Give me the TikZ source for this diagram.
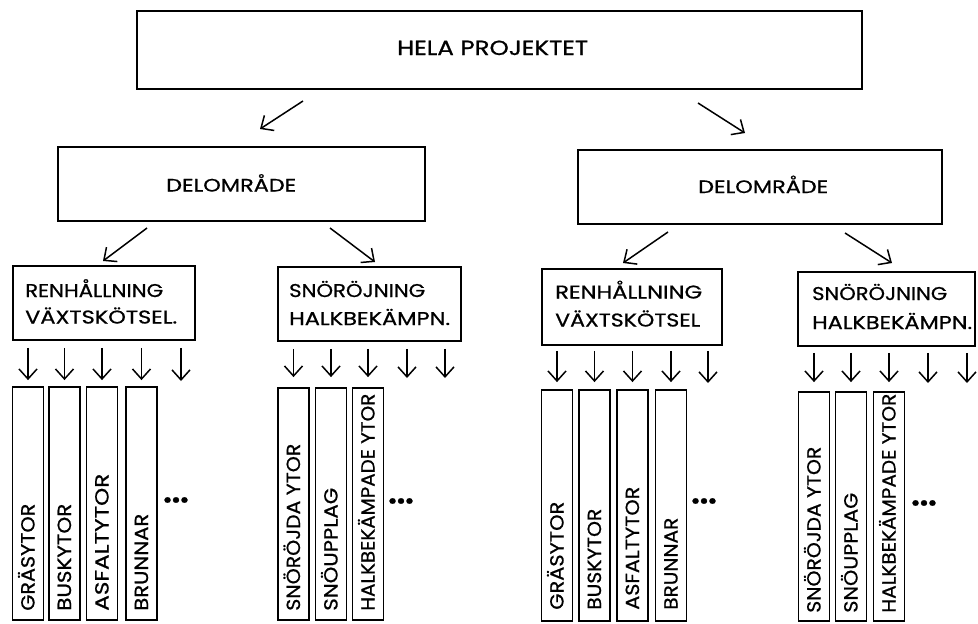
\documentclass[tikz,border=0pt]{standalone}
\usepackage{fontspec}
\setmainfont{Poppins}[FakeBold=0.7]
\usetikzlibrary{arrows.meta}
\newcommand\fitw[2]{\resizebox{#1pt}{\height}{#2}}
\begin{document}
\begin{tikzpicture}[x=1pt,y=-1pt,
  box/.style={draw, line width=1.8pt, inner sep=0pt},
  col/.style={draw, line width=1.8pt, inner sep=0pt, minimum width=31pt},
  txt/.style={inner sep=0pt, anchor=base west},
  ctxt/.style={rotate=90, anchor=west, inner sep=0pt, text height=13pt, text depth=0pt, font=\fontsize{19}{19}\selectfont},
  arr/.style={line width=1.5pt, -{Straight Barb[length=10pt,width=18pt]}},
  dots/.style={inner sep=0pt, font=\fontsize{30}{30}\selectfont\bfseries}]
\useasboundingbox (0,0) rectangle (978,624);
\fill[white] (0,0) rectangle (978,624);

% level 1
\node[box, minimum width=725pt, minimum height=78pt] (top) at (499.5,50) {};
\node[txt, font=\fontsize{20.5}{20}\selectfont] (ttop) at (397,55) {\fitw{191}{HELA PROJEKTET}};

% level 2
\node[box, minimum width=367pt, minimum height=74pt] (dl) at (241.5,184) {};
\node[txt, font=\fontsize{18}{18}\selectfont] (tdl) at (166,191.5) {\fitw{130}{DELOMRÅDE}};
\node[box, minimum width=364pt, minimum height=74pt] (dr) at (760,187) {};
\node[txt, font=\fontsize{18}{18}\selectfont] (tdr) at (698,193) {\fitw{130}{DELOMRÅDE}};

% level 3
\node[box, minimum width=182pt, minimum height=74pt] (A) at (104,303) {};
\node[txt, font=\fontsize{18.5}{18}\selectfont] (tA1) at (25,297) {\fitw{138}{RENHÅLLNING}};
\node[txt, font=\fontsize{18.5}{18}\selectfont] (tA2) at (25,323.5) {\fitw{152}{VÄXTSKÖTSEL.}};

\node[box, minimum width=183pt, minimum height=74pt] (B) at (369.5,304) {};
\node[txt, font=\fontsize{18.5}{18}\selectfont] (tB1) at (289,297) {\fitw{136}{SNÖRÖJNING}};
\node[txt, font=\fontsize{18.5}{18}\selectfont] (tB2) at (289,325) {\fitw{161}{HALKBEKÄMPN.}};

\node[box, minimum width=180pt, minimum height=76pt] (C) at (632,307) {};
\node[txt, font=\fontsize{18.5}{18}\selectfont] (tC1) at (555,298.5) {\fitw{147}{RENHÅLLNING}};
\node[txt, font=\fontsize{18.5}{18}\selectfont] (tC2) at (555,326.5) {\fitw{145}{VÄXTSKÖTSEL}};

\node[box, minimum width=177pt, minimum height=74pt] (D) at (886.5,309) {};
\node[txt, font=\fontsize{18.5}{18}\selectfont] (tD1) at (812,300) {\fitw{135}{SNÖRÖJNING}};
\node[txt, font=\fontsize{18.5}{18}\selectfont] (tD2) at (812,329) {\fitw{160}{HALKBEKÄMPN.}};

% level 4 columns
\node[col, minimum height=233pt] (a1) at (28,503.5) {};
\node[col, minimum height=233pt] (a2) at (64.5,503.5) {};
\node[col, minimum height=233pt] (a3) at (102,503.5) {};
\node[col, minimum height=233pt] (a4) at (141.5,503.5) {};
\coordinate (a5) at (181,387);

\node[col, minimum height=232pt] (b1) at (293.5,504) {};
\node[col, minimum height=232pt] (b2) at (331,504) {};
\node[col, minimum height=232pt] (b3) at (368,504) {};
\coordinate (b4) at (407,388);
\coordinate (b5) at (445,388);

\node[col, minimum height=231pt] (c1) at (557,505.5) {};
\node[col, minimum height=231pt] (c2) at (594.5,505.5) {};
\node[col, minimum height=231pt] (c3) at (632.5,505.5) {};
\node[col, minimum height=231pt] (c4) at (671,505.5) {};
\coordinate (c5) at (708,390);

\node[col, minimum height=229pt] (d1) at (814,506.5) {};
\node[col, minimum height=229pt] (d2) at (851,506.5) {};
\node[col, minimum height=229pt] (d3) at (889,506.5) {};
\coordinate (d4) at (928,392);
\coordinate (d5) at (967,392);

% column texts
\node[ctxt] (ta1) at ([yshift=10pt]a1.south) {\fitw{107}{GRÄSYTOR}};
\node[ctxt] (ta2) at ([yshift=10pt]a2.south) {\fitw{107}{BUSKYTOR}};
\node[ctxt] (ta3) at ([yshift=10pt]a3.south) {\fitw{137}{ASFALTYTOR}};
\node[ctxt] (ta4) at ([yshift=10pt]a4.south) {\fitw{97}{BRUNNAR}};

\node[ctxt] (tb1) at ([yshift=10pt]b1.south) {\fitw{167}{SNÖRÖJDA YTOR}};
\node[ctxt] (tb2) at ([yshift=10pt]b2.south) {\fitw{123}{SNÖUPPLAG}};
\node[ctxt] (tb3) at ([yshift=10pt]b3.south) {\fitw{217}{HALKBEKÄMPADE YTOR}};

\node[ctxt] (tc1) at ([yshift=12pt]c1.south) {\fitw{108}{GRÄSYTOR}};
\node[ctxt] (tc2) at ([yshift=12pt]c2.south) {\fitw{101}{BUSKYTOR}};
\node[ctxt] (tc3) at ([yshift=12pt]c3.south) {\fitw{123}{ASFALTYTOR}};
\node[ctxt] (tc4) at ([yshift=12pt]c4.south) {\fitw{92}{BRUNNAR}};

\node[ctxt] (td1) at ([yshift=9pt]d1.south) {\fitw{166}{SNÖRÖJDA YTOR}};
\node[ctxt] (td2) at ([yshift=9pt]d2.south) {\fitw{120}{SNÖUPPLAG}};
\node[ctxt] (td3) at ([yshift=9pt]d3.south) {\fitw{219}{HALKBEKÄMPADE YTOR}};

% ellipses
\node[dots] (ea) at (176,500) {...};
\node[dots] (eb) at (401,501) {...};
\node[dots] (ec) at (704,501) {...};
\node[dots] (ed) at (924,503) {...};

% diagonal arrows
\coordinate (p1) at (303,101); \coordinate (p2) at (260,129);
\coordinate (p3) at (698,103); \coordinate (p4) at (745,133);
\coordinate (q1) at (147,228); \coordinate (q2) at (103,261);
\coordinate (q3) at (330,228); \coordinate (q4) at (375,262);
\coordinate (r1) at (668,232); \coordinate (r2) at (623,263);
\coordinate (r3) at (845,233); \coordinate (r4) at (892,263);
\draw[arr] (p1) -- (p2);
\draw[arr] (p3) -- (p4);
\draw[arr] (q1) -- (q2);
\draw[arr] (q3) -- (q4);
\draw[arr] (r1) -- (r2);
\draw[arr] (r3) -- (r4);

% down arrows
\foreach \n in {a1,a2,a3,a4,a5}
  \draw[arr, shorten <=7pt, shorten >=6pt] (\n |- A.south) -- (\n);
\foreach \n in {b1,b2,b3,b4,b5}
  \draw[arr, shorten <=7pt, shorten >=10pt] (\n |- B.south) -- (\n);
\foreach \n in {c1,c2,c3,c4,c5}
  \draw[arr, shorten <=5pt, shorten >=7pt] (\n |- C.south) -- (\n);
\foreach \n in {d1,d2,d3,d4,d5}
  \draw[arr, shorten <=6pt, shorten >=9pt] (\n |- D.south) -- (\n);
\end{tikzpicture}
\end{document}
